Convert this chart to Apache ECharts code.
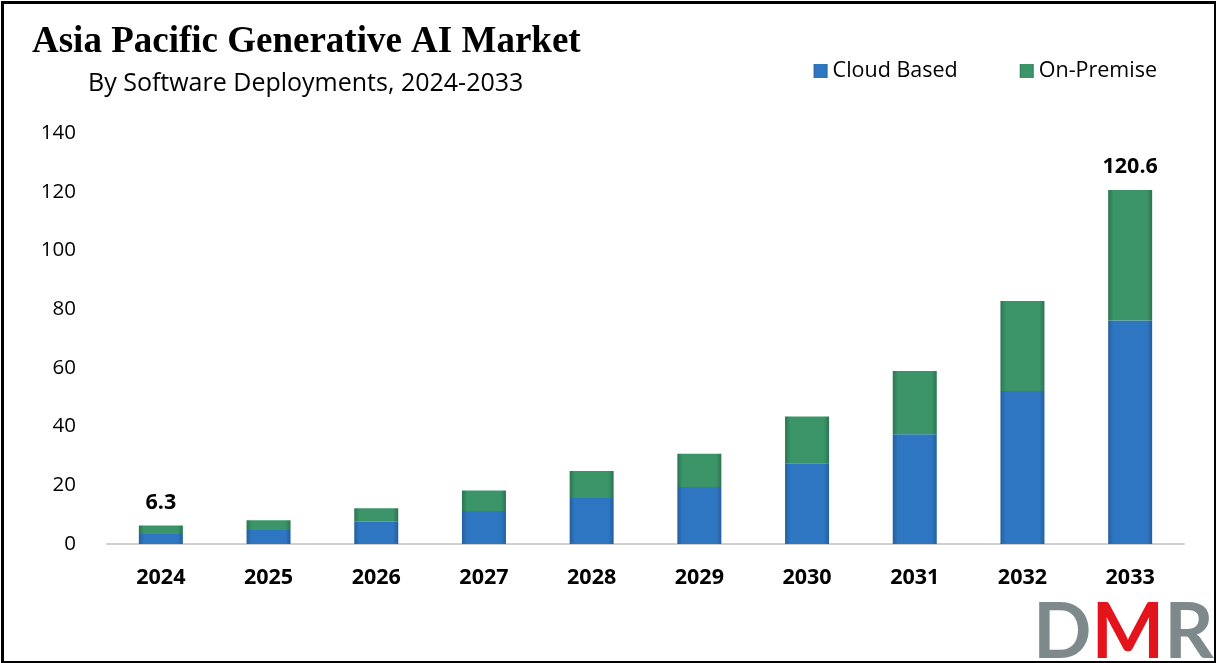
<!DOCTYPE html>
<html><head><meta charset="utf-8">
<script src="https://cdn.jsdelivr.net/npm/echarts@6/dist/echarts.min.js"></script>
<style>html,body{margin:0;padding:0;background:#fff}#c{width:1216px;height:663px}</style>
</head><body><div id="c"></div>
<script>
const categories = ['2024','2025','2026','2027','2028','2029','2030','2031','2032','2033'];
const cloudBased = [3.4, 4.8, 7.6, 11.2, 15.7, 19.4, 27.5, 37.4, 52.1, 76.1];
const onPremise  = [2.9, 3.3, 4.6, 7.0, 9.2, 11.3, 15.9, 21.5, 30.7, 44.5];
const totalLabels = ['6.3', '', '', '', '', '', '', '', '', '120.6'];
const yTicks = [0, 20, 40, 60, 80, 100, 120, 140];

function hGrad(edge, mid) {
  return new echarts.graphic.LinearGradient(0, 0, 1, 0, [
    {offset: 0, color: edge}, {offset: 0.12, color: mid}, {offset: 0.88, color: mid}, {offset: 1, color: edge}
  ]);
}
const chart = echarts.init(document.getElementById('c'));
const font = '"Open Sans", "Noto Sans", sans-serif';
chart.setOption({
  animation: false,
  backgroundColor: '#fff',
  title: [
    {text: 'Asia Pacific Generative AI Market', left: 27, top: 19,
     textStyle: {fontFamily: '"Liberation Serif", serif', fontWeight: 'bold', fontSize: 37, color: '#000'}},
    {text: 'By Software Deployments, 2024-2033', left: 83, top: 66,
     textStyle: {fontFamily: font, fontWeight: 'normal', fontSize: 25, color: '#000'}}
  ],
  legend: {
    right: 54, top: 55, itemWidth: 14, itemHeight: 14, itemGap: 62,
    icon: 'rect',
    textStyle: {fontFamily: font, fontSize: 21.5, color: '#000'},
    data: ['Cloud Based', 'On-Premise']
  },
  grid: {left: 107, right: 32, top: 133, bottom: 119, containLabel: false},
  xAxis: {
    type: 'category', data: categories,
    axisLine: {lineStyle: {color: '#d0d0d0', width: 2}},
    axisTick: {show: false},
    axisLabel: {margin: 23, fontFamily: font, fontWeight: 'bold', fontSize: 21.5, color: '#000'}
  },
  yAxis: {
    type: 'value', min: yTicks[0], max: yTicks[yTicks.length - 1], interval: 20,
    splitLine: {show: false}, axisLine: {show: false}, axisTick: {show: false},
    axisLabel: {margin: 31, fontFamily: font, fontSize: 20.5, color: '#000'}
  },
  series: [
    {name: 'Cloud Based', type: 'bar', stack: 'total', barWidth: 44, data: cloudBased,
     itemStyle: {color: hGrad('#235f9f', '#2f76c2')},
     emphasis: {disabled: true}},
    {name: 'On-Premise', type: 'bar', stack: 'total', barWidth: 44, data: onPremise,
     itemStyle: {color: hGrad('#2b7552', '#3b9569')},
     label: {show: true, position: 'top', distance: 12, fontFamily: font, fontWeight: 'bold', fontSize: 21.5, color: '#000',
       formatter: p => totalLabels[p.dataIndex]},
     emphasis: {disabled: true}}
  ],
  color: ['#2f76c2', '#3b9569'],
  graphic: [
    {type: 'rect', left: 0, top: 0, shape: {width: 1213, height: 660},
     style: {fill: 'none', stroke: '#000', lineWidth: 3}, silent: true, z: 100},
    {type: 'text', left: 1033, top: 595, silent: true, z: 90,
     style: {text: '{d|D}{m|M}{r|R}', rich: {
       d: {fontFamily: 'Lato, sans-serif', fontWeight: 'bold', fontSize: 77, fill: '#7d898b'},
       m: {fontFamily: 'Lato, sans-serif', fontWeight: 'bold', fontSize: 77, fill: '#e3141b'},
       r: {fontFamily: 'Lato, sans-serif', fontWeight: 'bold', fontSize: 77, fill: '#7d898b'}}}}
  ]
});
</script></body></html>
